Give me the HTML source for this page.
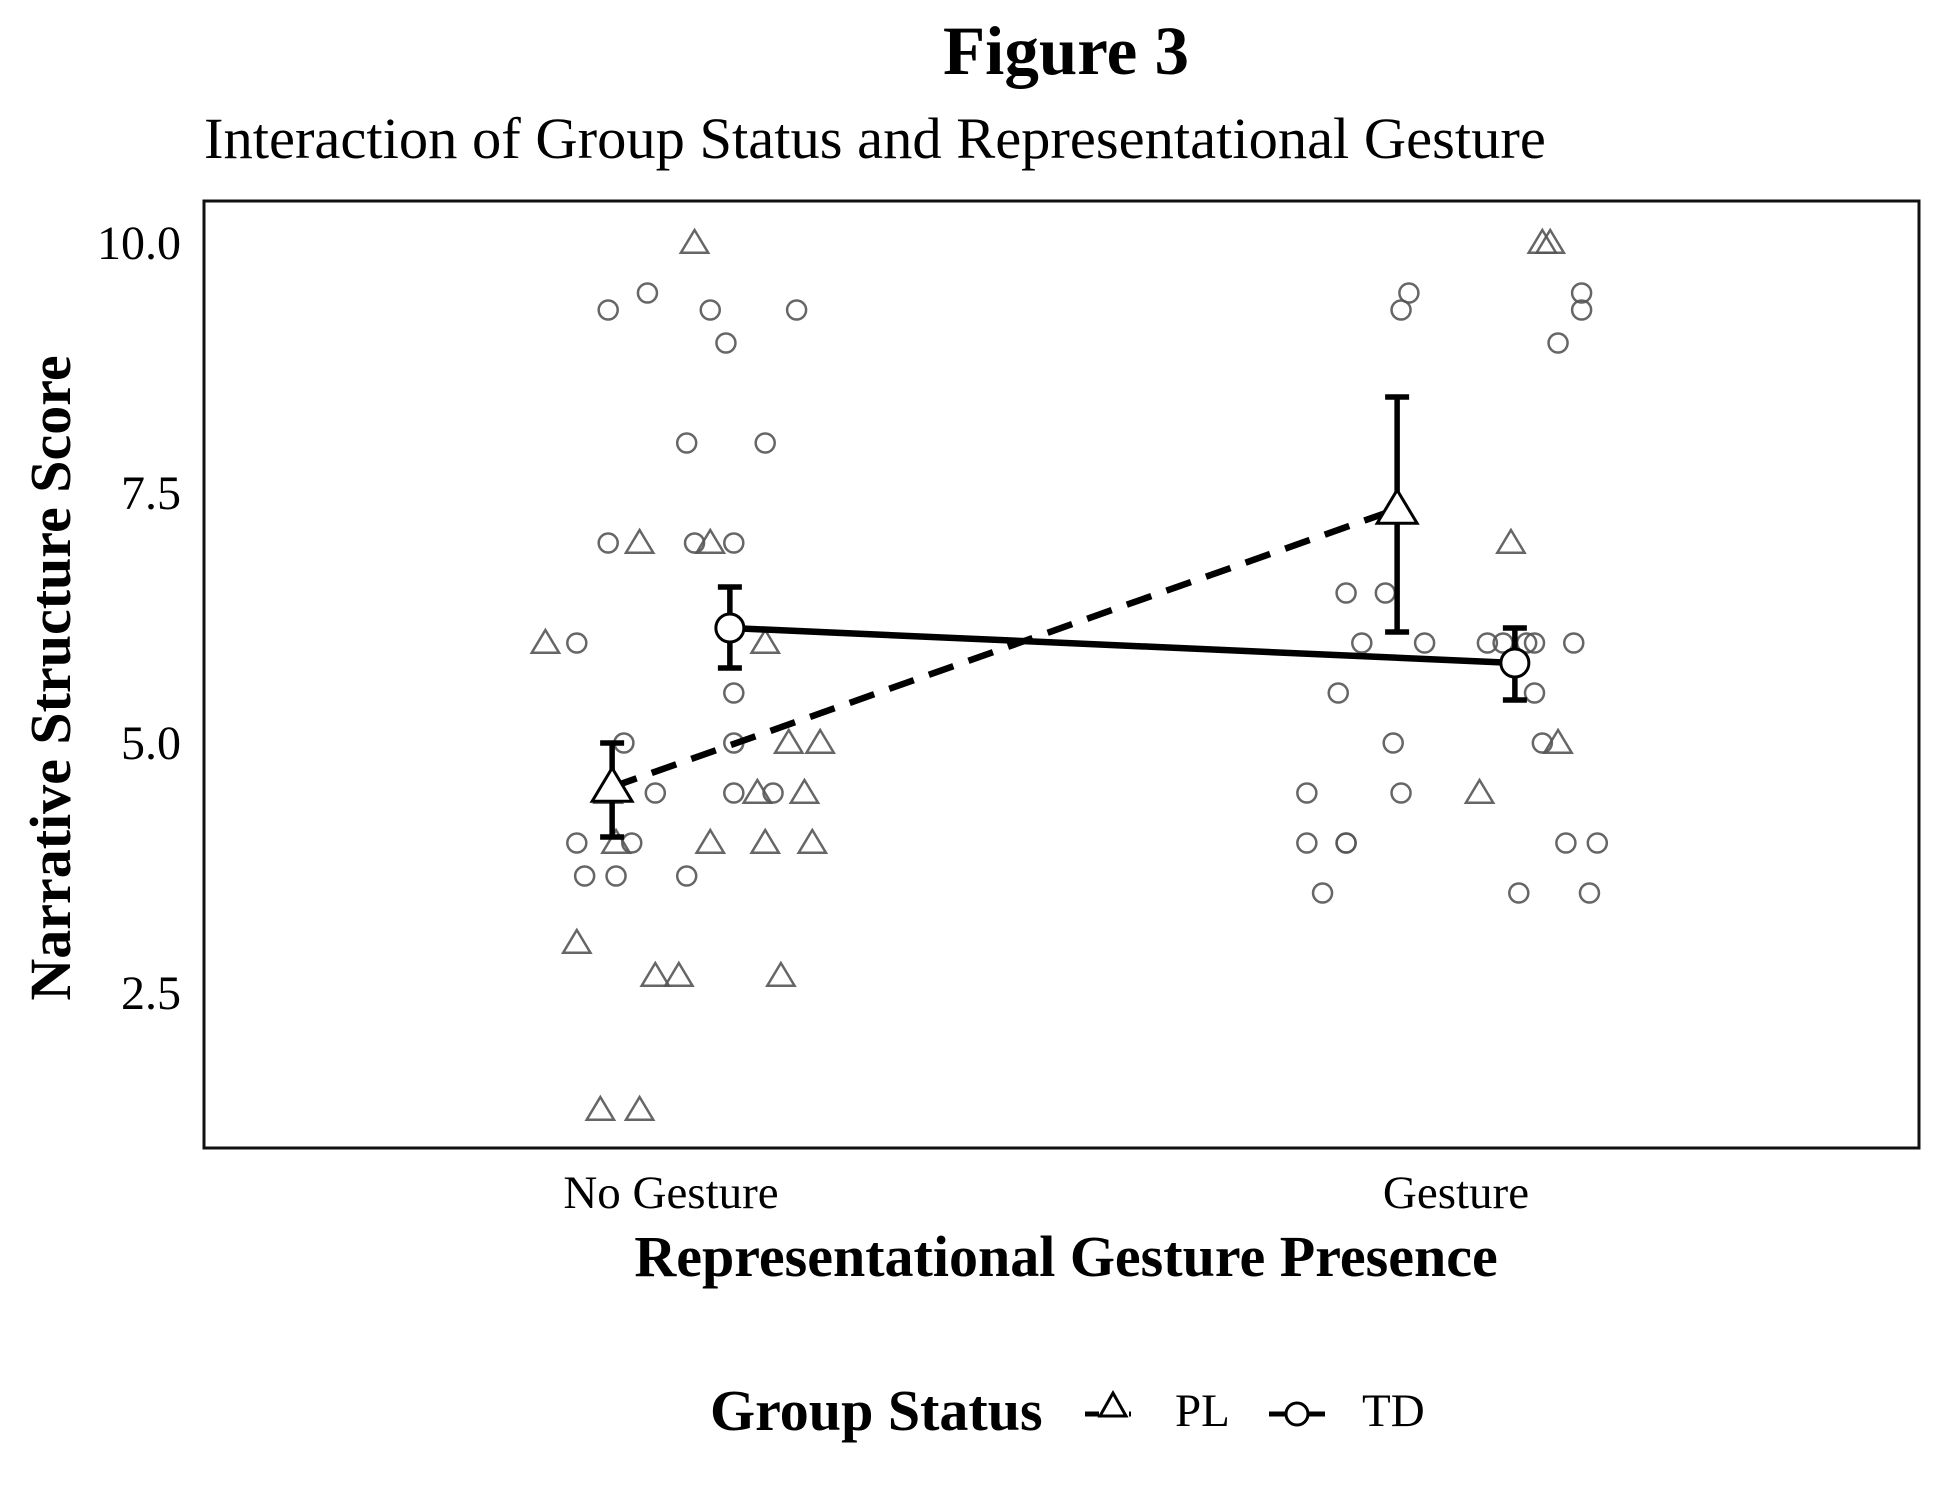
<!DOCTYPE html>
<html><head><meta charset="utf-8"><style>
body{margin:0;background:#fff}
svg{display:block;font-family:"Liberation Serif",serif}
</style></head><body>
<svg id="c" width="1950" height="1500" viewBox="0 0 1950 1500">
<text x="1066" y="74" text-anchor="middle" font-size="69" font-weight="bold">Figure 3</text>
<text x="204" y="158" font-size="58.5">Interaction of Group Status and Representational Gesture</text>
<rect x="204" y="201" width="1715" height="947" fill="none" stroke="#111" stroke-width="3"/>
<g id="yt"></g><g id="pts"></g><g id="means"></g>
<text transform="translate(70,678) rotate(-90)" text-anchor="middle" font-size="58" font-weight="bold">Narrative Structure Score</text>
<text x="1066" y="1276" text-anchor="middle" font-size="58" font-weight="bold">Representational Gesture Presence</text>
<g>
<text x="710" y="1430" font-size="58" font-weight="bold">Group Status</text>
<g>
<line x1="1085" y1="1414" x2="1131" y2="1414" stroke="#000" stroke-width="5" stroke-dasharray="14,8"/>
<polygon points="1113,1393 1100,1416 1126,1416" fill="#fff" stroke="#000" stroke-width="3"/>
<text x="1175" y="1426" font-size="47">PL</text></g>
<g>
<line x1="1269" y1="1414" x2="1325" y2="1414" stroke="#000" stroke-width="5"/>
<circle cx="1297" cy="1414" r="11" fill="#fff" stroke="#000" stroke-width="3"/>
<text x="1362" y="1426" font-size="47">TD</text></g>
</g>
</svg>
<script>
const categories=["No Gesture","Gesture"];
const yTicks=[2.5,5.0,7.5,10.0];
const plNoVals=[10,7,7,6,6,5,5,4.5,4.5,4.5,4,4,4,4,3,2.67,2.67,2.67,1.33,1.33];
const plNoJit=[3,-4,5,-16,12,15,19,11,17,-8,-7,5,12,18,-12,-2,1,14,-9,-4];
const tdNoVals=[9.33,9.5,9.33,9.33,9,8,8,7,7,7,6,5.5,5,5,4.5,4.5,4.5,4,4,3.67,3.67,3.67];
const tdNoJit=[-8,-3,5,16,7,2,12,-8,3,8,-12,8,-6,8,-2,8,13,-12,-5,-11,-7,2];
const plGVals=[10,10,7,4.5,5];
const plGJit=[11,12,7,3,13];
const tdGVals=[9.5,9.33,9.5,9.33,9,6.5,6.5,6,6,6,6,6,6,6,5.5,5.5,5,5,4.5,4.5,4,4,4,4,4,3.5,3.5,3.5];
const tdGJit=[-6,-7,16,16,13,-14,-9,-12,-4,4,6,9,10,15,-15,10,-8,11,-19,-7,-19,-14,-14,14,18,-17,8,17];
const plMeans=[4.56,7.34], plLo=[4.06,6.11], plHi=[5.0,8.46];
const tdMeans=[6.15,5.8], tdLo=[5.75,5.43], tdHi=[6.56,6.15];
const dodge=0.075;

const NS="http://www.w3.org/2000/svg";
const X=c=>671+c*785;
const Y=v=>243+(10-v)*100;
function mk(t,a,p){const e=document.createElementNS(NS,t);for(const k in a)e.setAttribute(k,a[k]);p.appendChild(e);return e;}
const svg=document.getElementById('c');
const yt=document.getElementById('yt');
yTicks.forEach(v=>{const t=mk('text',{x:181,y:Y(v)+16,'text-anchor':'end','font-size':48},yt);t.textContent=v.toFixed(1);

});
categories.forEach((c,i)=>{const t=mk('text',{x:X(i),y:1208,'text-anchor':'middle','font-size':47},svg);t.textContent=c;

});
const pts=document.getElementById('pts');
function tri(cx,cy,s,attrs,p){return mk('polygon',Object.assign({points:`${cx},${cy-s} ${cx-s*1.05},${cy+s*0.75} ${cx+s*1.05},${cy+s*0.75}`},attrs),p);}
const ptStyle={fill:'none',stroke:'#555','stroke-width':2.5,'stroke-opacity':0.9};
function drawPts(vals,jit,cat,shape){vals.forEach((v,i)=>{const cx=X(cat+jit[i]/100),cy=Y(v);let e;
if(shape==='tri')e=tri(cx,cy,13,ptStyle,pts);else e=mk('circle',Object.assign({cx:cx,cy:cy,r:9.5},ptStyle),pts);

});}
drawPts(plNoVals,plNoJit,0,'tri');drawPts(tdNoVals,tdNoJit,0,'circ');
drawPts(plGVals,plGJit,1,'tri');drawPts(tdGVals,tdGJit,1,'circ');
const mg=document.getElementById('means');
function series(means,lo,hi,off,dash,shape,name){
 const l=mk('line',{x1:X(0+off),y1:Y(means[0]),x2:X(1+off),y2:Y(means[1]),stroke:'#000','stroke-width':6.5},mg);
 if(dash)l.setAttribute('stroke-dasharray','26,16');
 
 
 means.forEach((m,i)=>{const cx=X(i+off);
  const g=mk('g',{},mg);
  
  
  mk('line',{x1:cx,y1:Y(lo[i]),x2:cx,y2:Y(hi[i]),stroke:'#000','stroke-width':5.5},g);
  mk('line',{x1:cx-12,y1:Y(lo[i]),x2:cx+12,y2:Y(lo[i]),stroke:'#000','stroke-width':5.5},g);
  mk('line',{x1:cx-12,y1:Y(hi[i]),x2:cx+12,y2:Y(hi[i]),stroke:'#000','stroke-width':5.5},g);
  let e;const st={fill:'#fff',stroke:'#000','stroke-width':3};
  if(shape==='tri')e=tri(cx,Y(m),19,st,mg);else e=mk('circle',Object.assign({cx:cx,cy:Y(m),r:14},st),mg);
  
  
 });}
series(plMeans,plLo,plHi,-dodge,true,'tri','pl');
series(tdMeans,tdLo,tdHi,dodge,false,'circ','td');
</script>
</body></html>
